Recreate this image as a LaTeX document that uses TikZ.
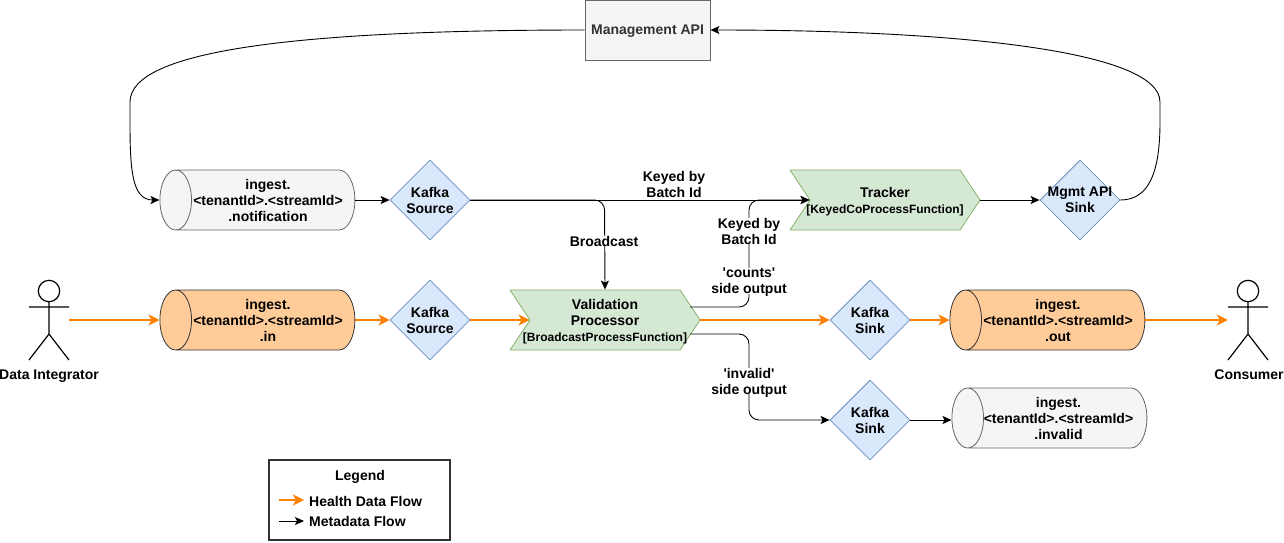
\documentclass[tikz,border=0pt]{standalone}
\usepackage{fontspec}
\setmainfont{Liberation Sans}
\usetikzlibrary{arrows.meta,shapes.geometric,shapes.symbols}
\definecolor{healthorange}{HTML}{FF8000}
\definecolor{ordercyl}{HTML}{FFCC99}
\definecolor{greycyl}{HTML}{F5F5F5}
\definecolor{greyline}{HTML}{666666}
\definecolor{stepgreen}{HTML}{D5E8D4}
\definecolor{stepline}{HTML}{82B366}
\definecolor{sourceblue}{HTML}{DAE8FC}
\definecolor{sourceline}{HTML}{6C8EBF}
\newcommand{\funcsize}{\fontsize{12}{16}\selectfont}
\tikzset{
  every node/.style={font=\fontsize{14}{16}\selectfont\bfseries, align=center, inner sep=0pt, text depth=0pt},
  meta/.style={draw=black, line width=0.9pt, -{Stealth[length=9pt,width=8pt,inset=2pt]}, rounded corners=10pt},
  health/.style={draw=healthorange, line width=2pt, -{Stealth[length=11pt,width=11pt,inset=3pt]}},
  topic/.style={cylinder, shape border rotate=180, aspect=0.75, draw=greyline, fill=greycyl, line width=0.8pt, minimum width=60pt, minimum height=195pt, inner xsep=-20pt},
  healthtopic/.style={topic, draw=black!80, fill=ordercyl},
  kafka/.style={diamond, aspect=1, draw=sourceline, fill=sourceblue, line width=0.8pt, minimum size=80pt, inner sep=-8pt},
  process/.style={signal, signal to=east, signal from=west, signal pointer angle=112.6, draw=stepline, fill=stepgreen, line width=0.8pt, minimum width=190pt, minimum height=60pt, inner xsep=-30pt},
  actorbox/.style={minimum width=40pt, minimum height=80pt},
  actorline/.style={line width=1.2pt},
  tag/.style={fill=white, inner xsep=1pt}
}
\begin{document}
\begin{tikzpicture}[x=1pt,y=-1pt]
\useasboundingbox (0,0) rectangle (1284,542);

% Management API
\node[draw=greyline, fill=greycyl, text=black!80, line width=0.8pt, minimum width=125pt, minimum height=60pt] (mgmt) at (647.5,30) {Management API};

% Topics
\node[topic] (notification) at (265.5,200) {\hspace{5pt}ingest.\\\hspace{5pt}<tenantId>.<streamId>\\\hspace{5pt}.notification};
\node[healthtopic] (topicin) at (265.5,320) {\hspace{5pt}ingest.\\\hspace{5pt}<tenantId>.<streamId>\\\hspace{5pt}.in};
\node[healthtopic] (topicout) at (1055.5,320) {\hspace{5pt}ingest.\\\hspace{5pt}<tenantId>.<streamId>\\\hspace{5pt}.out};
\node[topic] (topicinvalid) at (1057.5,418) {\hspace{2pt}ingest.\\\hspace{2pt}<tenantId>.<streamId>\\\hspace{2pt}.invalid};

% Kafka nodes
\node[kafka] (source1) at (430,200) {Kafka\\Source};
\node[kafka] (source2) at (430,320) {Kafka\\Source};
\node[kafka] (sink1) at (870,320) {Kafka\\Sink};
\node[kafka] (sink2) at (870,420) {Kafka\\Sink};
\node[kafka] (mgmtsink) at (1080,200) {Mgmt API\\Sink};

% Processors
\node[process] (tracker) at (885,200) {Tracker\\{\funcsize [KeyedCoProcessFunction]}};
\node[process] (validation) at (605,320) {Validation\\Processor\\{\funcsize [BroadcastProcessFunction]}};

% Actors
\node[actorbox] (integrator) at (49,320) {};
\node[actorbox] (consumer) at (1248,320) {};
\draw[actorline] (49,291) circle (10.7);
\draw[actorline] (49,301.7) -- (49,334) (29,307) -- (69,307) (29,360) -- (49,334) -- (69,360);
\draw[actorline] (1248,291) circle (10.7);
\draw[actorline] (1248,301.7) -- (1248,334) (1228,307) -- (1268,307) (1228,360) -- (1248,334) -- (1268,360);
\node (integratorlabel) at (49,375) {Data Integrator};
\node (consumerlabel) at (1249,375) {Consumer};

% Health data flow
\draw[health] (integrator.east) -- (topicin.top);
\draw[health] (topicin.bottom) -- (source2.west);
\draw[health] (source2.east) -- (validation.west);
\draw[health] (validation.east) -- (sink1.west);
\draw[health] (sink1.east) -- (topicout.top);
\draw[health] (topicout.bottom) -- (consumer.west);

% Metadata flow
\coordinate (countsout) at (690,307);
\coordinate (invalidout) at (690,334);
\draw[meta] (notification.bottom) -- (source1.west);
\draw[meta] (source1.east) -- (tracker.west);
\draw[meta] (source1.east) -- (604.5,200) -- (validation.north);
\draw[meta] (countsout) -- (749,307) -- (749,200) -- (tracker.west);
\draw[meta] (invalidout) -- (749,334) -- (749,420) -- (sink2.west);
\draw[meta] (sink2.east) -- (sink2.east -| topicinvalid.top);
\draw[meta] (tracker.east) -- (mgmtsink.west);
\draw[meta] (mgmtsink.east) .. controls (1150,200) and (1160,170) .. (1160,112) .. controls (1160,50) and (950,30) .. (mgmt.east);
\draw[meta] (mgmt.west) .. controls (300,30) and (130,50) .. (130,112) .. controls (130,170) and (132,200) .. (notification.top);

% Edge labels
\node (keyedtop) at (674,184) {Keyed by\\Batch Id};
\node[tag] (broadcast) at (604,241) {Broadcast};
\node[tag] (keyedside) at (749,231) {Keyed by\\Batch Id};
\node[tag] (counts) at (749,281) {\textquotesingle counts\textquotesingle\\side output};
\node[tag] (invalid) at (749,381) {\textquotesingle invalid\textquotesingle\\side output};

% Legend
\draw[draw=black!80, line width=2pt] (269,460) rectangle (450,540);
\node (legend) at (360,475) {Legend};
\coordinate (legendA) at (279,500);
\coordinate (legendB) at (304,500);
\coordinate (legendC) at (279,521);
\coordinate (legendD) at (304,521);
\draw[health] (legendA) -- (legendB);
\draw[meta] (legendC) -- (legendD);
\node[anchor=west] (healthlabel) at (309,501) {Health Data Flow};
\node[anchor=west] (metalabel) at (309,521) {Metadata Flow};
\end{tikzpicture}
\end{document}
